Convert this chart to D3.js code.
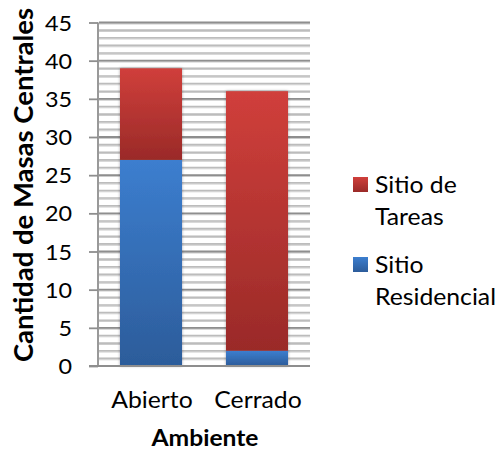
<!DOCTYPE html>
<html><head><meta charset="utf-8">
<script src="https://cdn.jsdelivr.net/npm/d3@7"></script>
<style>body{margin:0;background:#fff}svg{display:block}text{font-family:Lato,"Noto Sans",sans-serif;fill:#000}</style>
</head><body>
<script>
const categories = ["Abierto", "Cerrado"];
const residencial = [27, 2];
const tareas = [12, 34];
const seriesNames = ["Sitio de Tareas", "Sitio Residencial"];
const yTicks = [0, 5, 10, 15, 20, 25, 30, 35, 40, 45];
const xTitle = "Ambiente";
const yTitle = "Cantidad de Masas Centrales";

const W = 498, H = 451, SX = 1.1;
const svg = d3.select("body").append("svg").attr("width", W).attr("height", H);
const defs = svg.append("defs");
function grad(id, c1, c2) {
  const g = defs.append("linearGradient").attr("id", id).attr("x1", 0).attr("y1", 0).attr("x2", 0).attr("y2", 1);
  g.append("stop").attr("offset", 0).attr("stop-color", c1);
  g.append("stop").attr("offset", 1).attr("stop-color", c2);
}
grad("gRed", "#d03f3b", "#9a2a28");
grad("gBlue", "#3c7ecf", "#2c5c9a");
defs.append("filter").attr("id", "sh").attr("x", -0.2).attr("y", -0.05).attr("width", 1.4).attr("height", 1.1)
  .append("feDropShadow").attr("dx", 0).attr("dy", 0).attr("stdDeviation", 1.6).attr("flood-color", "#000").attr("flood-opacity", 0.35);
defs.append("filter").attr("id", "gsh").attr("x", 0).attr("y", -1).attr("width", 1).attr("height", 3)
  .append("feDropShadow").attr("dx", 0).attr("dy", 0.8).attr("stdDeviation", 0.6).attr("flood-color", "#000").attr("flood-opacity", 0.25);

const x = d3.scaleBand().domain(categories).range([98, 310]).paddingInner(0.415).paddingOuter(0.2075);
const y = d3.scaleLinear().domain([0, 45]).range([366, 22.5]);

// minor gridlines
const minor = d3.range(1, 46).filter(v => v % 5 !== 0);
svg.append("g").attr("filter", "url(#gsh)").selectAll("line").data(minor).join("line")
  .attr("x1", 99).attr("x2", 310).attr("y1", d => y(d)).attr("y2", d => y(d))
  .attr("stroke", "#bcbcbc").attr("stroke-width", 1.6);
// major gridlines
svg.append("g").attr("filter", "url(#gsh)").selectAll("line").data(yTicks.filter(v => v > 0)).join("line")
  .attr("x1", 99).attr("x2", 310).attr("y1", d => y(d)).attr("y2", d => y(d))
  .attr("stroke", "#8e8e8e").attr("stroke-width", 1.8);

// y axis
const yAxis = d3.axisLeft(y).tickValues(yTicks).tickSize(9).tickPadding(0).tickFormat(d3.format("d"));
const ya = svg.append("g").attr("transform", "translate(98,0)").call(yAxis);
ya.select(".domain").attr("stroke", "#8e8e8e").attr("stroke-width", 1.8).attr("d", `M0,${y(45)}V${y(0)}`);
ya.selectAll(".tick line").attr("stroke", "#8e8e8e").attr("stroke-width", 1.8);
ya.selectAll(".tick text").remove();
ya.selectAll(".tick").append("g").attr("transform", "translate(-26,7.5) scale(1.14,1)")
  .append("text").attr("text-anchor", "end").style("font-size", "20.5px").text(d => d);

// bars
const bw = x.bandwidth();
const bars = svg.append("g");
categories.forEach((c, i) => {
  const g = bars.append("g").attr("filter", "url(#sh)");
  g.append("rect").attr("x", x(c)).attr("width", bw)
    .attr("y", y(residencial[i])).attr("height", y(0) - y(residencial[i])).attr("fill", "url(#gBlue)");
  g.append("rect").attr("x", x(c)).attr("width", bw)
    .attr("y", y(residencial[i] + tareas[i])).attr("height", y(residencial[i]) - y(residencial[i] + tareas[i])).attr("fill", "url(#gRed)");
});

// x axis
const xAxis = d3.axisBottom(x).tickSize(0).tickPadding(0);
const xa = svg.append("g").attr("transform", `translate(0,${y(0)})`).call(xAxis);
xa.select(".domain").attr("stroke", "#8e8e8e").attr("stroke-width", 1.8).attr("d", "M89,0H310");
xa.selectAll(".tick text").remove();
xa.selectAll(".tick").append("g").attr("transform", "translate(1,42) scale(" + SX + ",1)")
  .append("text").attr("text-anchor", "middle").style("font-size", "22.5px").text(d => d);

// axis titles
svg.append("g").attr("transform", `translate(${(98 + 310) / 2 + 1},445.5) scale(1.12,1)`)
  .append("text").attr("text-anchor", "middle").style("font-size", "22px").style("font-weight", "bold").text(xTitle);
svg.append("g").attr("transform", `translate(33,185) rotate(-90)`)
  .append("text").attr("text-anchor", "middle").style("font-size", "27.5px").style("font-weight", "bold").text(yTitle);

// legend
const legend = [
  { lines: ["Sitio de", "Tareas"], fill: "url(#gRed)", y: 177 },
  { lines: ["Sitio", "Residencial"], fill: "url(#gBlue)", y: 257 }
];
legend.forEach(l => {
  svg.append("rect").attr("x", 353).attr("y", l.y).attr("width", 15).attr("height", 15).attr("fill", l.fill);
  l.lines.forEach((t, k) => {
    svg.append("g").attr("transform", `translate(375,${l.y + 16 + k * 32}) scale(${SX},1)`)
      .append("text").style("font-size", "22.5px").text(t);
  });
});
</script>
</body></html>
